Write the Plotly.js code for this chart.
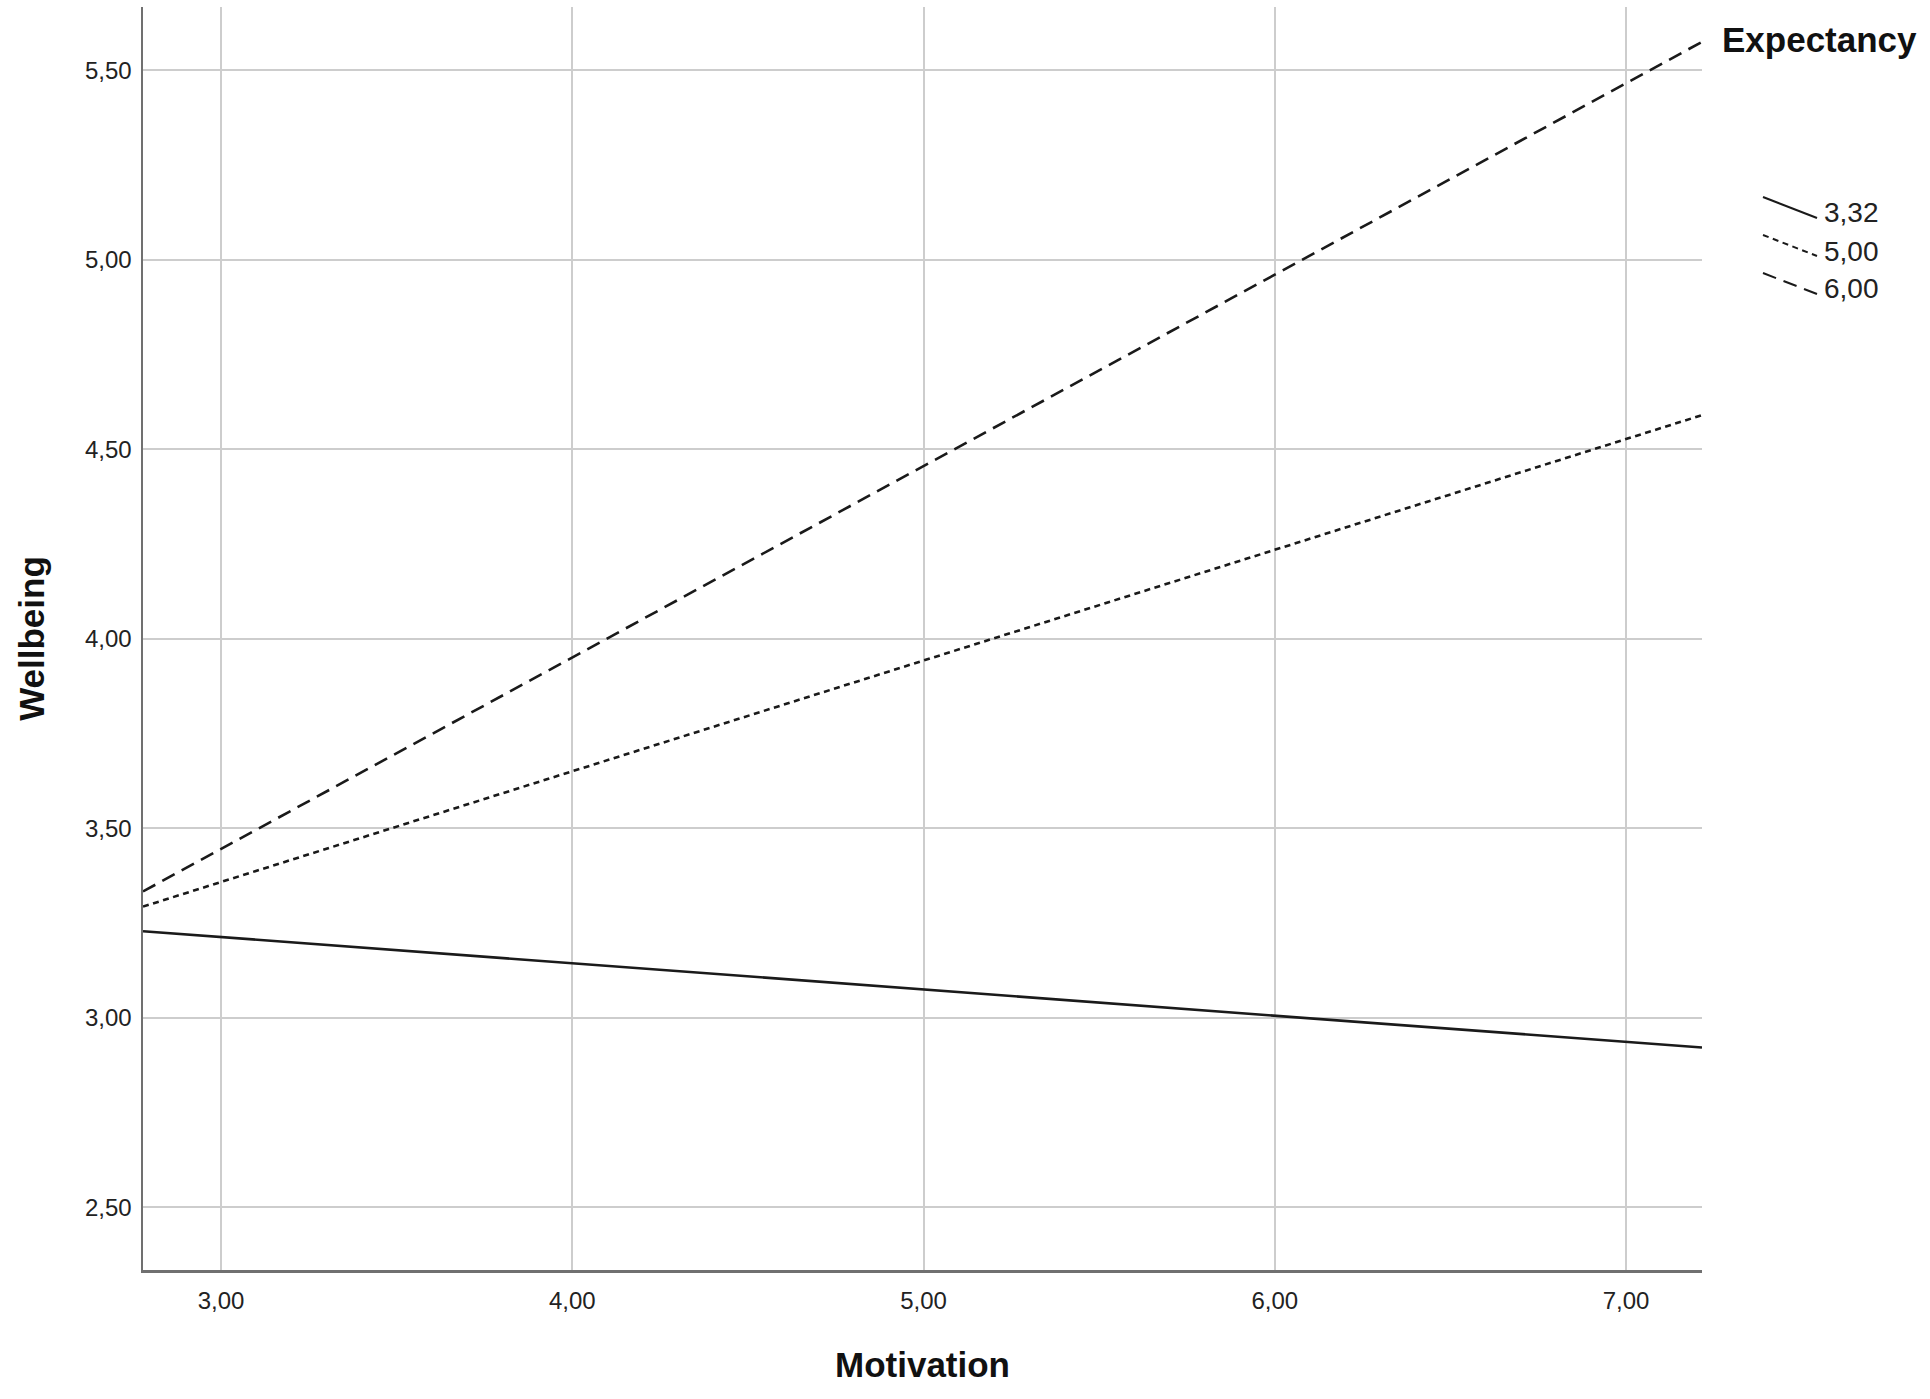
<!DOCTYPE html>
<html>
<head>
<meta charset="utf-8">
<script src="https://cdn.plot.ly/plotly-3.0.1.min.js"></script>
<style>
  html, body { margin: 0; padding: 0; background: #fff; }
  #chart { width: 1930px; height: 1399px; }
</style>
</head>
<body>
<div id="chart"></div>
<script>
// данные: линии простого наклона (Wellbeing ~ Motivation при разных уровнях Expectancy)
const motivation = [2.778, 7.216];          // концы линий по оси X
const expectancyLevels = ['3,32', '5,00', '6,00'];
const wellbeingLow = [3.228, 2.921];         // Expectancy = 3,32
const wellbeingMid = [3.293, 4.590];         // Expectancy = 5,00
const wellbeingHigh = [3.333, 5.575];        // Expectancy = 6,00

const xTickVals = [3, 4, 5, 6, 7];
const xTickText = ['3,00', '4,00', '5,00', '6,00', '7,00'];
const yTickVals = [2.5, 3, 3.5, 4, 4.5, 5, 5.5];
const yTickText = ['2,50', '3,00', '3,50', '4,00', '4,50', '5,00', '5,50'];

// геометрия страницы
const W = 1930, H = 1399;
const M = { l: 143, r: 228, t: 7, b: 129 };
const plotW = W - M.l - M.r;
const plotH = H - M.t - M.b;
const px = (x) => (x - M.l) / plotW;       // пиксели -> paper
const py = (y) => (H - M.b - y) / plotH;

const FONT = 'Liberation Sans, Arial, sans-serif';
const lineColor = '#1a1a1a';
const dashes = ['solid', '6px,4.5px', '14px,8px'];
const series = [wellbeingLow, wellbeingMid, wellbeingHigh];

const traces = series.map((ys, i) => ({
    x: motivation,
    y: ys,
    type: 'scatter',
    mode: 'lines',
    name: expectancyLevels[i],
    line: { color: lineColor, width: 2.6, dash: dashes[i] },
    hoverinfo: 'skip',
    showlegend: false,
}));

// легенда как в SPSS: наклонные образцы линий + подписи
const shapes = [];
const annotations = [];
expectancyLevels.forEach((lab, i) => {
    const y0 = 197 + i * 38;
    shapes.push({
        type: 'line', xref: 'paper', yref: 'paper',
        x0: px(1763), y0: py(y0), x1: px(1817), y1: py(y0 + 21),
        line: { color: lineColor, width: 2, dash: dashes[i] },
    });
    annotations.push({
        xref: 'paper', yref: 'paper',
        x: px(1822), y: py(y0 + 16),
        xanchor: 'left', yanchor: 'middle',
        text: lab, showarrow: false,
        font: { family: FONT, size: 28, color: '#222' },
    });
});
annotations.push({
    xref: 'paper', yref: 'paper',
    x: px(1720), y: py(40),
    xanchor: 'left', yanchor: 'middle',
    text: '<b>Expectancy</b>', showarrow: false,
    font: { family: FONT, size: 35, color: '#111' },
});

const layout = {
    width: W,
    height: H,
    margin: M,
    paper_bgcolor: '#fff',
    plot_bgcolor: '#fff',
    showlegend: false,
    xaxis: {
        range: [motivation[0], motivation[1]],
        tickvals: xTickVals,
        ticktext: xTickText,
        ticks: '',
        ticklabelstandoff: 8,
        showgrid: true,
        gridcolor: '#cdcdcd',
        gridwidth: 2,
        zeroline: false,
        showline: true,
        linecolor: '#707070',
        linewidth: 2.5,
        tickfont: { family: FONT, size: 24, color: '#222' },
        title: { text: '<b>Motivation</b>', standoff: 39, font: { family: FONT, size: 35, color: '#111' } },
        automargin: false,
    },
    yaxis: {
        range: [2.334, 5.667],
        tickvals: yTickVals,
        ticktext: yTickText,
        ticks: '',
        ticklabelstandoff: 4,
        showgrid: true,
        gridcolor: '#cdcdcd',
        gridwidth: 2,
        zeroline: false,
        showline: true,
        linecolor: '#707070',
        linewidth: 2.5,
        tickfont: { family: FONT, size: 24, color: '#222' },
        title: { text: '<b>Wellbeing</b>', standoff: 30, font: { family: FONT, size: 35, color: '#111' } },
        automargin: false,
    },
    shapes: shapes,
    annotations: annotations,
};

Plotly.newPlot('chart', traces, layout, { displayModeBar: false, staticPlot: true });
</script>
</body>
</html>
